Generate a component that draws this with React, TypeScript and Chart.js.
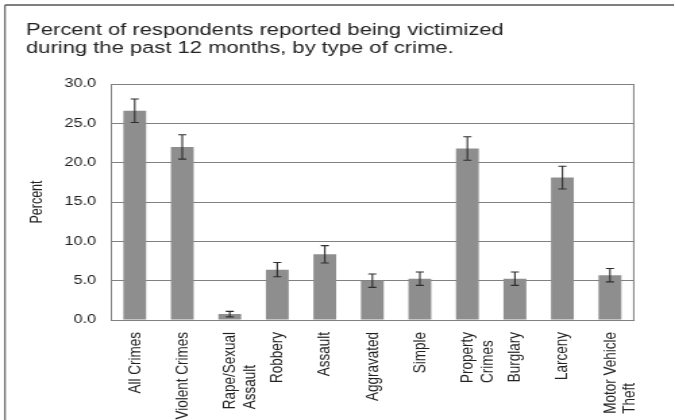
import React, { useEffect, useRef } from "react";
import { Chart, registerables } from "chart.js";

Chart.register(...registerables);

// ---- data ----
const categories: string[][] = [
  ["All Crimes"],
  ["Violent Crimes"],
  ["Rape/Sexual", "Assault"],
  ["Robbery"],
  ["Assault"],
  ["Aggravated"],
  ["Simple"],
  ["Property", "Crimes"],
  ["Burglary"],
  ["Larceny"],
  ["Motor Vehicle", "Theft"],
];
const percents = [26.6, 22.0, 0.75, 6.4, 8.35, 5.0, 5.25, 21.8, 5.25, 18.1, 5.7];
const errorMargins = [1.5, 1.55, 0.35, 0.9, 1.1, 0.85, 0.85, 1.5, 0.85, 1.45, 0.85];
const yTicks = [0, 5, 10, 15, 20, 25, 30];
const titleLines = [
  "Percent of respondents reported being victimized",
  "during the past 12 months, by type of crime.",
];
const yAxisTitle = "Percent";

// ---- layout (the reference image is stretched horizontally) ----
const SX = 1.35;
const W = 675 / SX;
const H = 420;
const FONT = "'Liberation Sans', Arial, sans-serif";

const decor = {
  id: "decor",
  beforeDraw(chart: any) {
    const { ctx } = chart;
    ctx.save();
    ctx.fillStyle = "#ffffff";
    ctx.fillRect(0, 0, chart.width, chart.height);
    ctx.restore();
  },
  afterDatasetsDraw(chart: any) {
    const { ctx, chartArea } = chart;
    const y = chart.scales.y;
    const xs = chart.scales.x;
    const meta = chart.getDatasetMeta(0);
    ctx.save();
    // error bars
    ctx.strokeStyle = "#2e2e2e";
    ctx.lineWidth = 1.1;
    meta.data.forEach((bar: any, i: number) => {
      const x = bar.x;
      const hi = y.getPixelForValue(percents[i] + errorMargins[i]);
      const lo = y.getPixelForValue(percents[i] - errorMargins[i]);
      ctx.beginPath();
      ctx.moveTo(x, hi);
      ctx.lineTo(x, lo);
      ctx.moveTo(x - 3, hi);
      ctx.lineTo(x + 3, hi);
      ctx.moveTo(x - 3, lo);
      ctx.lineTo(x + 3, lo);
      ctx.stroke();
    });
    // right border of plot
    ctx.strokeStyle = "#808080";
    ctx.lineWidth = 1;
    ctx.beginPath();
    ctx.moveTo(chartArea.right, chartArea.top);
    ctx.lineTo(chartArea.right, chartArea.bottom);
    ctx.stroke();
    // x category labels: rotated, lines start-aligned, first line on the tick
    ctx.fillStyle = "#222222";
    ctx.font = `13.5px ${FONT}`;
    ctx.textAlign = "left";
    ctx.textBaseline = "middle";
    const lineStep = 14.8;
    const labelTop = chartArea.bottom + 12;
    categories.forEach((lines, i) => {
      const x = xs.getPixelForValue(i);
      const maxW = Math.max(...lines.map((l) => ctx.measureText(l).width));
      ctx.save();
      ctx.translate(x, labelTop + maxW);
      ctx.rotate(-Math.PI / 2);
      lines.forEach((l, j) => ctx.fillText(l, 0, j * lineStep));
      ctx.restore();
    });
    // outer frame (top and left)
    ctx.strokeStyle = "#555555";
    ctx.lineWidth = 1.5;
    ctx.beginPath();
    ctx.moveTo(3.7, 5);
    ctx.lineTo(W, 5);
    ctx.stroke();
    ctx.lineWidth = 1.1;
    ctx.beginPath();
    ctx.moveTo(3.7, 5);
    ctx.lineTo(3.7, H);
    ctx.stroke();
    // title
    ctx.fillStyle = "#222222";
    ctx.font = `16.3px ${FONT}`;
    ctx.textAlign = "left";
    ctx.textBaseline = "alphabetic";
    ctx.fillText(titleLines[0], 19.3, 35);
    ctx.fillText(titleLines[1], 19.3, 53);
    // y axis title
    ctx.translate(27.4, (chartArea.top + chartArea.bottom) / 2);
    ctx.rotate(-Math.PI / 2);
    ctx.textAlign = "center";
    ctx.textBaseline = "middle";
    ctx.font = `12.5px ${FONT}`;
    ctx.fillText(yAxisTitle, 0, 0);
    ctx.restore();
  },
};

export default function App() {
  const ref = useRef<HTMLCanvasElement>(null);
  useEffect(() => {
    document.body.style.margin = "0";
    const chart = new Chart(ref.current as HTMLCanvasElement, {
      type: "bar",
      data: {
        labels: categories.map((c) => c.join(" ")),
        datasets: [
          {
            data: percents,
            backgroundColor: "#8e8e8e",
            borderWidth: 0,
            barPercentage: 0.48,
            categoryPercentage: 1,
          },
        ],
      },
      options: {
        responsive: false,
        animation: false,
        devicePixelRatio: 1,
        layout: { padding: { top: 84, right: W - 470.4, left: 0, bottom: 0 } },
        plugins: {
          legend: { display: false },
          tooltip: { enabled: false },
          title: { display: false },
        },
        scales: {
          x: {
            grid: { display: false, drawTicks: false },
            border: { display: true, color: "#808080", width: 1 },
            ticks: { display: false },
            afterFit: (s: any) => {
              s.height = 100;
            },
          },
          y: {
            min: 0,
            max: 30,
            afterBuildTicks: (s: any) => {
              s.ticks = yTicks.map((v) => ({ value: v }));
            },
            ticks: {
              padding: 11,
              color: "#222222",
              font: { family: FONT, size: 12 },
              callback: (v: any) => Number(v).toFixed(1),
            },
            grid: { color: "#808080", drawTicks: false, tickLength: 0 },
            border: { display: true, color: "#808080", width: 1 },
            afterFit: (s: any) => {
              s.width = 82.2;
            },
          },
        },
      },
      plugins: [decor],
    });
    return () => chart.destroy();
  }, []);
  return (
    <div
      style={{
        position: "absolute",
        left: 0,
        top: 0,
        width: 675,
        height: H,
        overflow: "hidden",
        background: "#fff",
      }}
    >
      <div style={{ width: W, height: H, transform: `scale(${SX},1)`, transformOrigin: "0 0" }}>
        <canvas ref={ref} width={W} height={H} style={{ display: "block" }} />
      </div>
    </div>
  );
}
